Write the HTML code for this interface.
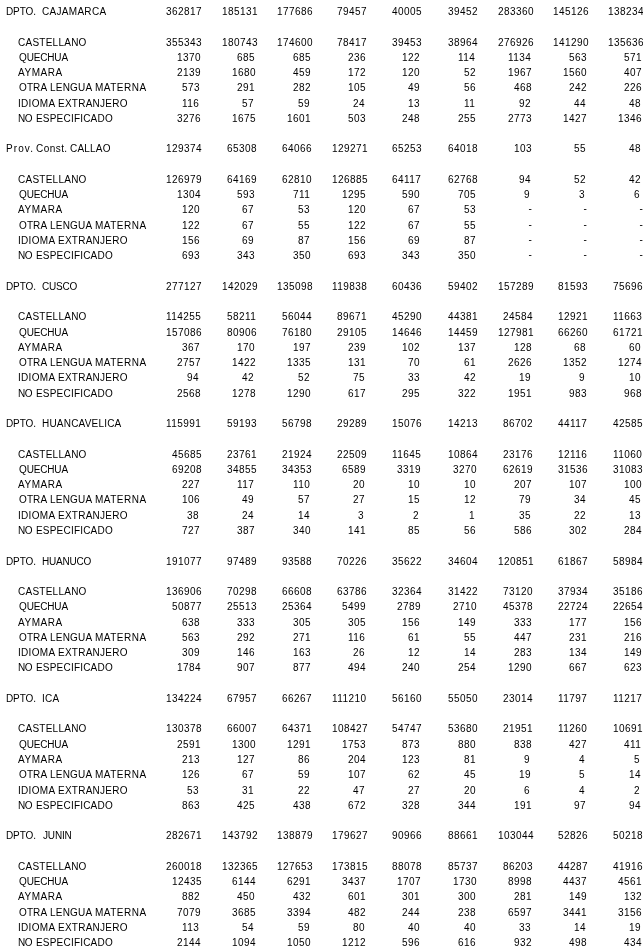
<!DOCTYPE html>
<html lang="es"><head><meta charset="utf-8"><title>Poblaci&oacute;n por idioma o lengua materna</title>
<style>
html,body{margin:0;padding:0;background:#fff;}
body{width:643px;height:949px;overflow:hidden;position:relative;font-family:"Liberation Sans",sans-serif;font-size:10px;line-height:12px;color:#000;}
.r{position:absolute;left:0;width:700px;height:12px;white-space:nowrap;}
.r span{position:absolute;top:0;}
.n{letter-spacing:0.44px;}
.r .d{top:-1px;}
</style></head><body>
<div class="r h" style="top:6px"><span class="w" style="left:6px;letter-spacing:-0.10px">DPTO.</span><span class="w" style="left:42px;letter-spacing:0.30px">CAJAMARCA</span><span class="n" style="left:166px">362817</span><span class="n" style="left:222px">185131</span><span class="n" style="left:277px">177686</span><span class="n" style="left:337px">79457</span><span class="n" style="left:392px">40005</span><span class="n" style="left:448px">39452</span><span class="n" style="left:498px">283360</span><span class="n" style="left:553px">145126</span><span class="n" style="left:608px">138234</span></div>
<div class="r" style="top:37px"><span class="w" style="left:18px;letter-spacing:0.25px">CASTELLANO</span><span class="n" style="left:166px">355343</span><span class="n" style="left:222px">180743</span><span class="n" style="left:277px">174600</span><span class="n" style="left:337px">78417</span><span class="n" style="left:392px">39453</span><span class="n" style="left:448px">38964</span><span class="n" style="left:498px">276926</span><span class="n" style="left:553px">141290</span><span class="n" style="left:608px">135636</span></div>
<div class="r" style="top:52px"><span class="w" style="left:19px;letter-spacing:-0.15px">QUECHUA</span><span class="n" style="left:177px">1370</span><span class="n" style="left:237px">685</span><span class="n" style="left:293px">685</span><span class="n" style="left:348px">236</span><span class="n" style="left:402px">122</span><span class="n" style="left:458px">114</span><span class="n" style="left:508px">1134</span><span class="n" style="left:569px">563</span><span class="n" style="left:624px">571</span></div>
<div class="r" style="top:67px"><span class="w" style="left:18px;letter-spacing:0.55px">AYMARA</span><span class="n" style="left:177px">2139</span><span class="n" style="left:232px">1680</span><span class="n" style="left:293px">459</span><span class="n" style="left:348px">172</span><span class="n" style="left:402px">120</span><span class="n" style="left:464px">52</span><span class="n" style="left:508px">1967</span><span class="n" style="left:563px">1560</span><span class="n" style="left:624px">407</span></div>
<div class="r" style="top:82px"><span class="w" style="left:19px;letter-spacing:0.10px">OTRA</span><span class="w" style="left:50px;letter-spacing:0.20px">LENGUA</span><span class="w" style="left:95px;letter-spacing:0.50px">MATERNA</span><span class="n" style="left:182px">573</span><span class="n" style="left:237px">291</span><span class="n" style="left:293px">282</span><span class="n" style="left:348px">105</span><span class="n" style="left:408px">49</span><span class="n" style="left:464px">56</span><span class="n" style="left:514px">468</span><span class="n" style="left:569px">242</span><span class="n" style="left:624px">226</span></div>
<div class="r" style="top:98px"><span class="w" style="left:18px;letter-spacing:0.30px">IDIOMA</span><span class="w" style="left:58px;letter-spacing:0.25px">EXTRANJERO</span><span class="n" style="left:182px">116</span><span class="n" style="left:242px">57</span><span class="n" style="left:298px">59</span><span class="n" style="left:353px">24</span><span class="n" style="left:408px">13</span><span class="n" style="left:464px">11</span><span class="n" style="left:519px">92</span><span class="n" style="left:574px">44</span><span class="n" style="left:629px">48</span></div>
<div class="r" style="top:113px"><span class="w" style="left:18px;letter-spacing:-0.35px">NO</span><span class="w" style="left:36px;letter-spacing:0.20px">ESPECIFICADO</span><span class="n" style="left:177px">3276</span><span class="n" style="left:232px">1675</span><span class="n" style="left:287px">1601</span><span class="n" style="left:348px">503</span><span class="n" style="left:402px">248</span><span class="n" style="left:458px">255</span><span class="n" style="left:508px">2773</span><span class="n" style="left:563px">1427</span><span class="n" style="left:618px">1346</span></div>
<div class="r h" style="top:143px"><span class="w" style="left:6px;letter-spacing:1.10px">Prov.</span><span class="w" style="left:36px;letter-spacing:0.45px">Const.</span><span class="w" style="left:70px;letter-spacing:0.20px">CALLAO</span><span class="n" style="left:166px">129374</span><span class="n" style="left:227px">65308</span><span class="n" style="left:282px">64066</span><span class="n" style="left:332px">129271</span><span class="n" style="left:392px">65253</span><span class="n" style="left:448px">64018</span><span class="n" style="left:514px">103</span><span class="n" style="left:574px">55</span><span class="n" style="left:629px">48</span></div>
<div class="r" style="top:174px"><span class="w" style="left:18px;letter-spacing:0.25px">CASTELLANO</span><span class="n" style="left:166px">126979</span><span class="n" style="left:227px">64169</span><span class="n" style="left:282px">62810</span><span class="n" style="left:332px">126885</span><span class="n" style="left:392px">64117</span><span class="n" style="left:448px">62768</span><span class="n" style="left:519px">94</span><span class="n" style="left:574px">52</span><span class="n" style="left:629px">42</span></div>
<div class="r" style="top:189px"><span class="w" style="left:19px;letter-spacing:-0.15px">QUECHUA</span><span class="n" style="left:177px">1304</span><span class="n" style="left:237px">593</span><span class="n" style="left:293px">711</span><span class="n" style="left:342px">1295</span><span class="n" style="left:402px">590</span><span class="n" style="left:458px">705</span><span class="n" style="left:524px">9</span><span class="n" style="left:579px">3</span><span class="n" style="left:634px">6</span></div>
<div class="r" style="top:204px"><span class="w" style="left:18px;letter-spacing:0.55px">AYMARA</span><span class="n" style="left:182px">120</span><span class="n" style="left:242px">67</span><span class="n" style="left:298px">53</span><span class="n" style="left:348px">120</span><span class="n" style="left:408px">67</span><span class="n" style="left:464px">53</span><span class="n d" style="left:528.4px">-</span><span class="n d" style="left:583.4px">-</span><span class="n d" style="left:639.4px">-</span></div>
<div class="r" style="top:220px"><span class="w" style="left:19px;letter-spacing:0.10px">OTRA</span><span class="w" style="left:50px;letter-spacing:0.20px">LENGUA</span><span class="w" style="left:95px;letter-spacing:0.50px">MATERNA</span><span class="n" style="left:182px">122</span><span class="n" style="left:242px">67</span><span class="n" style="left:298px">55</span><span class="n" style="left:348px">122</span><span class="n" style="left:408px">67</span><span class="n" style="left:464px">55</span><span class="n d" style="left:528.4px">-</span><span class="n d" style="left:583.4px">-</span><span class="n d" style="left:639.4px">-</span></div>
<div class="r" style="top:235px"><span class="w" style="left:18px;letter-spacing:0.30px">IDIOMA</span><span class="w" style="left:58px;letter-spacing:0.25px">EXTRANJERO</span><span class="n" style="left:182px">156</span><span class="n" style="left:242px">69</span><span class="n" style="left:298px">87</span><span class="n" style="left:348px">156</span><span class="n" style="left:408px">69</span><span class="n" style="left:464px">87</span><span class="n d" style="left:528.4px">-</span><span class="n d" style="left:583.4px">-</span><span class="n d" style="left:639.4px">-</span></div>
<div class="r" style="top:250px"><span class="w" style="left:18px;letter-spacing:-0.35px">NO</span><span class="w" style="left:36px;letter-spacing:0.20px">ESPECIFICADO</span><span class="n" style="left:182px">693</span><span class="n" style="left:237px">343</span><span class="n" style="left:293px">350</span><span class="n" style="left:348px">693</span><span class="n" style="left:402px">343</span><span class="n" style="left:458px">350</span><span class="n d" style="left:528.4px">-</span><span class="n d" style="left:583.4px">-</span><span class="n d" style="left:639.4px">-</span></div>
<div class="r h" style="top:281px"><span class="w" style="left:6px;letter-spacing:-0.10px">DPTO.</span><span class="w" style="left:42px;letter-spacing:-0.20px">CUSCO</span><span class="n" style="left:166px">277127</span><span class="n" style="left:222px">142029</span><span class="n" style="left:277px">135098</span><span class="n" style="left:332px">119838</span><span class="n" style="left:392px">60436</span><span class="n" style="left:448px">59402</span><span class="n" style="left:498px">157289</span><span class="n" style="left:558px">81593</span><span class="n" style="left:613px">75696</span></div>
<div class="r" style="top:311px"><span class="w" style="left:18px;letter-spacing:0.25px">CASTELLANO</span><span class="n" style="left:166px">114255</span><span class="n" style="left:227px">58211</span><span class="n" style="left:282px">56044</span><span class="n" style="left:337px">89671</span><span class="n" style="left:392px">45290</span><span class="n" style="left:448px">44381</span><span class="n" style="left:503px">24584</span><span class="n" style="left:558px">12921</span><span class="n" style="left:613px">11663</span></div>
<div class="r" style="top:327px"><span class="w" style="left:19px;letter-spacing:-0.15px">QUECHUA</span><span class="n" style="left:166px">157086</span><span class="n" style="left:227px">80906</span><span class="n" style="left:282px">76180</span><span class="n" style="left:337px">29105</span><span class="n" style="left:392px">14646</span><span class="n" style="left:448px">14459</span><span class="n" style="left:498px">127981</span><span class="n" style="left:558px">66260</span><span class="n" style="left:613px">61721</span></div>
<div class="r" style="top:342px"><span class="w" style="left:18px;letter-spacing:0.55px">AYMARA</span><span class="n" style="left:182px">367</span><span class="n" style="left:237px">170</span><span class="n" style="left:293px">197</span><span class="n" style="left:348px">239</span><span class="n" style="left:402px">102</span><span class="n" style="left:458px">137</span><span class="n" style="left:514px">128</span><span class="n" style="left:574px">68</span><span class="n" style="left:629px">60</span></div>
<div class="r" style="top:357px"><span class="w" style="left:19px;letter-spacing:0.10px">OTRA</span><span class="w" style="left:50px;letter-spacing:0.20px">LENGUA</span><span class="w" style="left:95px;letter-spacing:0.50px">MATERNA</span><span class="n" style="left:177px">2757</span><span class="n" style="left:232px">1422</span><span class="n" style="left:287px">1335</span><span class="n" style="left:348px">131</span><span class="n" style="left:408px">70</span><span class="n" style="left:464px">61</span><span class="n" style="left:508px">2626</span><span class="n" style="left:563px">1352</span><span class="n" style="left:618px">1274</span></div>
<div class="r" style="top:372px"><span class="w" style="left:18px;letter-spacing:0.30px">IDIOMA</span><span class="w" style="left:58px;letter-spacing:0.25px">EXTRANJERO</span><span class="n" style="left:187px">94</span><span class="n" style="left:242px">42</span><span class="n" style="left:298px">52</span><span class="n" style="left:353px">75</span><span class="n" style="left:408px">33</span><span class="n" style="left:464px">42</span><span class="n" style="left:519px">19</span><span class="n" style="left:579px">9</span><span class="n" style="left:629px">10</span></div>
<div class="r" style="top:388px"><span class="w" style="left:18px;letter-spacing:-0.35px">NO</span><span class="w" style="left:36px;letter-spacing:0.20px">ESPECIFICADO</span><span class="n" style="left:177px">2568</span><span class="n" style="left:232px">1278</span><span class="n" style="left:287px">1290</span><span class="n" style="left:348px">617</span><span class="n" style="left:402px">295</span><span class="n" style="left:458px">322</span><span class="n" style="left:508px">1951</span><span class="n" style="left:569px">983</span><span class="n" style="left:624px">968</span></div>
<div class="r h" style="top:418px"><span class="w" style="left:6px;letter-spacing:-0.10px">DPTO.</span><span class="w" style="left:42px;letter-spacing:0.20px">HUANCAVELICA</span><span class="n" style="left:166px">115991</span><span class="n" style="left:227px">59193</span><span class="n" style="left:282px">56798</span><span class="n" style="left:337px">29289</span><span class="n" style="left:392px">15076</span><span class="n" style="left:448px">14213</span><span class="n" style="left:503px">86702</span><span class="n" style="left:558px">44117</span><span class="n" style="left:613px">42585</span></div>
<div class="r" style="top:449px"><span class="w" style="left:18px;letter-spacing:0.25px">CASTELLANO</span><span class="n" style="left:172px">45685</span><span class="n" style="left:227px">23761</span><span class="n" style="left:282px">21924</span><span class="n" style="left:337px">22509</span><span class="n" style="left:392px">11645</span><span class="n" style="left:448px">10864</span><span class="n" style="left:503px">23176</span><span class="n" style="left:558px">12116</span><span class="n" style="left:613px">11060</span></div>
<div class="r" style="top:464px"><span class="w" style="left:19px;letter-spacing:-0.15px">QUECHUA</span><span class="n" style="left:172px">69208</span><span class="n" style="left:227px">34855</span><span class="n" style="left:282px">34353</span><span class="n" style="left:342px">6589</span><span class="n" style="left:397px">3319</span><span class="n" style="left:453px">3270</span><span class="n" style="left:503px">62619</span><span class="n" style="left:558px">31536</span><span class="n" style="left:613px">31083</span></div>
<div class="r" style="top:479px"><span class="w" style="left:18px;letter-spacing:0.55px">AYMARA</span><span class="n" style="left:182px">227</span><span class="n" style="left:237px">117</span><span class="n" style="left:293px">110</span><span class="n" style="left:353px">20</span><span class="n" style="left:408px">10</span><span class="n" style="left:464px">10</span><span class="n" style="left:514px">207</span><span class="n" style="left:569px">107</span><span class="n" style="left:624px">100</span></div>
<div class="r" style="top:494px"><span class="w" style="left:19px;letter-spacing:0.10px">OTRA</span><span class="w" style="left:50px;letter-spacing:0.20px">LENGUA</span><span class="w" style="left:95px;letter-spacing:0.50px">MATERNA</span><span class="n" style="left:182px">106</span><span class="n" style="left:242px">49</span><span class="n" style="left:298px">57</span><span class="n" style="left:353px">27</span><span class="n" style="left:408px">15</span><span class="n" style="left:464px">12</span><span class="n" style="left:519px">79</span><span class="n" style="left:574px">34</span><span class="n" style="left:629px">45</span></div>
<div class="r" style="top:510px"><span class="w" style="left:18px;letter-spacing:0.30px">IDIOMA</span><span class="w" style="left:58px;letter-spacing:0.25px">EXTRANJERO</span><span class="n" style="left:187px">38</span><span class="n" style="left:242px">24</span><span class="n" style="left:298px">14</span><span class="n" style="left:358px">3</span><span class="n" style="left:413px">2</span><span class="n" style="left:469px">1</span><span class="n" style="left:519px">35</span><span class="n" style="left:574px">22</span><span class="n" style="left:629px">13</span></div>
<div class="r" style="top:525px"><span class="w" style="left:18px;letter-spacing:-0.35px">NO</span><span class="w" style="left:36px;letter-spacing:0.20px">ESPECIFICADO</span><span class="n" style="left:182px">727</span><span class="n" style="left:237px">387</span><span class="n" style="left:293px">340</span><span class="n" style="left:348px">141</span><span class="n" style="left:408px">85</span><span class="n" style="left:464px">56</span><span class="n" style="left:514px">586</span><span class="n" style="left:569px">302</span><span class="n" style="left:624px">284</span></div>
<div class="r h" style="top:556px"><span class="w" style="left:6px;letter-spacing:-0.10px">DPTO.</span><span class="w" style="left:42px;letter-spacing:-0.20px">HUANUCO</span><span class="n" style="left:166px">191077</span><span class="n" style="left:227px">97489</span><span class="n" style="left:282px">93588</span><span class="n" style="left:337px">70226</span><span class="n" style="left:392px">35622</span><span class="n" style="left:448px">34604</span><span class="n" style="left:498px">120851</span><span class="n" style="left:558px">61867</span><span class="n" style="left:613px">58984</span></div>
<div class="r" style="top:586px"><span class="w" style="left:18px;letter-spacing:0.25px">CASTELLANO</span><span class="n" style="left:166px">136906</span><span class="n" style="left:227px">70298</span><span class="n" style="left:282px">66608</span><span class="n" style="left:337px">63786</span><span class="n" style="left:392px">32364</span><span class="n" style="left:448px">31422</span><span class="n" style="left:503px">73120</span><span class="n" style="left:558px">37934</span><span class="n" style="left:613px">35186</span></div>
<div class="r" style="top:601px"><span class="w" style="left:19px;letter-spacing:-0.15px">QUECHUA</span><span class="n" style="left:172px">50877</span><span class="n" style="left:227px">25513</span><span class="n" style="left:282px">25364</span><span class="n" style="left:342px">5499</span><span class="n" style="left:397px">2789</span><span class="n" style="left:453px">2710</span><span class="n" style="left:503px">45378</span><span class="n" style="left:558px">22724</span><span class="n" style="left:613px">22654</span></div>
<div class="r" style="top:617px"><span class="w" style="left:18px;letter-spacing:0.55px">AYMARA</span><span class="n" style="left:182px">638</span><span class="n" style="left:237px">333</span><span class="n" style="left:293px">305</span><span class="n" style="left:348px">305</span><span class="n" style="left:402px">156</span><span class="n" style="left:458px">149</span><span class="n" style="left:514px">333</span><span class="n" style="left:569px">177</span><span class="n" style="left:624px">156</span></div>
<div class="r" style="top:632px"><span class="w" style="left:19px;letter-spacing:0.10px">OTRA</span><span class="w" style="left:50px;letter-spacing:0.20px">LENGUA</span><span class="w" style="left:95px;letter-spacing:0.50px">MATERNA</span><span class="n" style="left:182px">563</span><span class="n" style="left:237px">292</span><span class="n" style="left:293px">271</span><span class="n" style="left:348px">116</span><span class="n" style="left:408px">61</span><span class="n" style="left:464px">55</span><span class="n" style="left:514px">447</span><span class="n" style="left:569px">231</span><span class="n" style="left:624px">216</span></div>
<div class="r" style="top:647px"><span class="w" style="left:18px;letter-spacing:0.30px">IDIOMA</span><span class="w" style="left:58px;letter-spacing:0.25px">EXTRANJERO</span><span class="n" style="left:182px">309</span><span class="n" style="left:237px">146</span><span class="n" style="left:293px">163</span><span class="n" style="left:353px">26</span><span class="n" style="left:408px">12</span><span class="n" style="left:464px">14</span><span class="n" style="left:514px">283</span><span class="n" style="left:569px">134</span><span class="n" style="left:624px">149</span></div>
<div class="r" style="top:662px"><span class="w" style="left:18px;letter-spacing:-0.35px">NO</span><span class="w" style="left:36px;letter-spacing:0.20px">ESPECIFICADO</span><span class="n" style="left:177px">1784</span><span class="n" style="left:237px">907</span><span class="n" style="left:293px">877</span><span class="n" style="left:348px">494</span><span class="n" style="left:402px">240</span><span class="n" style="left:458px">254</span><span class="n" style="left:508px">1290</span><span class="n" style="left:569px">667</span><span class="n" style="left:624px">623</span></div>
<div class="r h" style="top:693px"><span class="w" style="left:6px;letter-spacing:-0.10px">DPTO.</span><span class="w" style="left:42px;letter-spacing:0.20px">ICA</span><span class="n" style="left:166px">134224</span><span class="n" style="left:227px">67957</span><span class="n" style="left:282px">66267</span><span class="n" style="left:332px">111210</span><span class="n" style="left:392px">56160</span><span class="n" style="left:448px">55050</span><span class="n" style="left:503px">23014</span><span class="n" style="left:558px">11797</span><span class="n" style="left:613px">11217</span></div>
<div class="r" style="top:723px"><span class="w" style="left:18px;letter-spacing:0.25px">CASTELLANO</span><span class="n" style="left:166px">130378</span><span class="n" style="left:227px">66007</span><span class="n" style="left:282px">64371</span><span class="n" style="left:332px">108427</span><span class="n" style="left:392px">54747</span><span class="n" style="left:448px">53680</span><span class="n" style="left:503px">21951</span><span class="n" style="left:558px">11260</span><span class="n" style="left:613px">10691</span></div>
<div class="r" style="top:739px"><span class="w" style="left:19px;letter-spacing:-0.15px">QUECHUA</span><span class="n" style="left:177px">2591</span><span class="n" style="left:232px">1300</span><span class="n" style="left:287px">1291</span><span class="n" style="left:342px">1753</span><span class="n" style="left:402px">873</span><span class="n" style="left:458px">880</span><span class="n" style="left:514px">838</span><span class="n" style="left:569px">427</span><span class="n" style="left:624px">411</span></div>
<div class="r" style="top:754px"><span class="w" style="left:18px;letter-spacing:0.55px">AYMARA</span><span class="n" style="left:182px">213</span><span class="n" style="left:237px">127</span><span class="n" style="left:298px">86</span><span class="n" style="left:348px">204</span><span class="n" style="left:402px">123</span><span class="n" style="left:464px">81</span><span class="n" style="left:524px">9</span><span class="n" style="left:579px">4</span><span class="n" style="left:634px">5</span></div>
<div class="r" style="top:769px"><span class="w" style="left:19px;letter-spacing:0.10px">OTRA</span><span class="w" style="left:50px;letter-spacing:0.20px">LENGUA</span><span class="w" style="left:95px;letter-spacing:0.50px">MATERNA</span><span class="n" style="left:182px">126</span><span class="n" style="left:242px">67</span><span class="n" style="left:298px">59</span><span class="n" style="left:348px">107</span><span class="n" style="left:408px">62</span><span class="n" style="left:464px">45</span><span class="n" style="left:519px">19</span><span class="n" style="left:579px">5</span><span class="n" style="left:629px">14</span></div>
<div class="r" style="top:785px"><span class="w" style="left:18px;letter-spacing:0.30px">IDIOMA</span><span class="w" style="left:58px;letter-spacing:0.25px">EXTRANJERO</span><span class="n" style="left:187px">53</span><span class="n" style="left:242px">31</span><span class="n" style="left:298px">22</span><span class="n" style="left:353px">47</span><span class="n" style="left:408px">27</span><span class="n" style="left:464px">20</span><span class="n" style="left:524px">6</span><span class="n" style="left:579px">4</span><span class="n" style="left:634px">2</span></div>
<div class="r" style="top:800px"><span class="w" style="left:18px;letter-spacing:-0.35px">NO</span><span class="w" style="left:36px;letter-spacing:0.20px">ESPECIFICADO</span><span class="n" style="left:182px">863</span><span class="n" style="left:237px">425</span><span class="n" style="left:293px">438</span><span class="n" style="left:348px">672</span><span class="n" style="left:402px">328</span><span class="n" style="left:458px">344</span><span class="n" style="left:514px">191</span><span class="n" style="left:574px">97</span><span class="n" style="left:629px">94</span></div>
<div class="r h" style="top:830px"><span class="w" style="left:6px;letter-spacing:-0.10px">DPTO.</span><span class="w" style="left:43px;letter-spacing:-0.15px">JUNIN</span><span class="n" style="left:166px">282671</span><span class="n" style="left:222px">143792</span><span class="n" style="left:277px">138879</span><span class="n" style="left:332px">179627</span><span class="n" style="left:392px">90966</span><span class="n" style="left:448px">88661</span><span class="n" style="left:498px">103044</span><span class="n" style="left:558px">52826</span><span class="n" style="left:613px">50218</span></div>
<div class="r" style="top:861px"><span class="w" style="left:18px;letter-spacing:0.25px">CASTELLANO</span><span class="n" style="left:166px">260018</span><span class="n" style="left:222px">132365</span><span class="n" style="left:277px">127653</span><span class="n" style="left:332px">173815</span><span class="n" style="left:392px">88078</span><span class="n" style="left:448px">85737</span><span class="n" style="left:503px">86203</span><span class="n" style="left:558px">44287</span><span class="n" style="left:613px">41916</span></div>
<div class="r" style="top:876px"><span class="w" style="left:19px;letter-spacing:-0.15px">QUECHUA</span><span class="n" style="left:172px">12435</span><span class="n" style="left:232px">6144</span><span class="n" style="left:287px">6291</span><span class="n" style="left:342px">3437</span><span class="n" style="left:397px">1707</span><span class="n" style="left:453px">1730</span><span class="n" style="left:508px">8998</span><span class="n" style="left:563px">4437</span><span class="n" style="left:618px">4561</span></div>
<div class="r" style="top:891px"><span class="w" style="left:18px;letter-spacing:0.55px">AYMARA</span><span class="n" style="left:182px">882</span><span class="n" style="left:237px">450</span><span class="n" style="left:293px">432</span><span class="n" style="left:348px">601</span><span class="n" style="left:402px">301</span><span class="n" style="left:458px">300</span><span class="n" style="left:514px">281</span><span class="n" style="left:569px">149</span><span class="n" style="left:624px">132</span></div>
<div class="r" style="top:907px"><span class="w" style="left:19px;letter-spacing:0.10px">OTRA</span><span class="w" style="left:50px;letter-spacing:0.20px">LENGUA</span><span class="w" style="left:95px;letter-spacing:0.50px">MATERNA</span><span class="n" style="left:177px">7079</span><span class="n" style="left:232px">3685</span><span class="n" style="left:287px">3394</span><span class="n" style="left:348px">482</span><span class="n" style="left:402px">244</span><span class="n" style="left:458px">238</span><span class="n" style="left:508px">6597</span><span class="n" style="left:563px">3441</span><span class="n" style="left:618px">3156</span></div>
<div class="r" style="top:922px"><span class="w" style="left:18px;letter-spacing:0.30px">IDIOMA</span><span class="w" style="left:58px;letter-spacing:0.25px">EXTRANJERO</span><span class="n" style="left:182px">113</span><span class="n" style="left:242px">54</span><span class="n" style="left:298px">59</span><span class="n" style="left:353px">80</span><span class="n" style="left:408px">40</span><span class="n" style="left:464px">40</span><span class="n" style="left:519px">33</span><span class="n" style="left:574px">14</span><span class="n" style="left:629px">19</span></div>
<div class="r" style="top:937px"><span class="w" style="left:18px;letter-spacing:-0.35px">NO</span><span class="w" style="left:36px;letter-spacing:0.20px">ESPECIFICADO</span><span class="n" style="left:177px">2144</span><span class="n" style="left:232px">1094</span><span class="n" style="left:287px">1050</span><span class="n" style="left:342px">1212</span><span class="n" style="left:402px">596</span><span class="n" style="left:458px">616</span><span class="n" style="left:514px">932</span><span class="n" style="left:569px">498</span><span class="n" style="left:624px">434</span></div>
</body></html>
